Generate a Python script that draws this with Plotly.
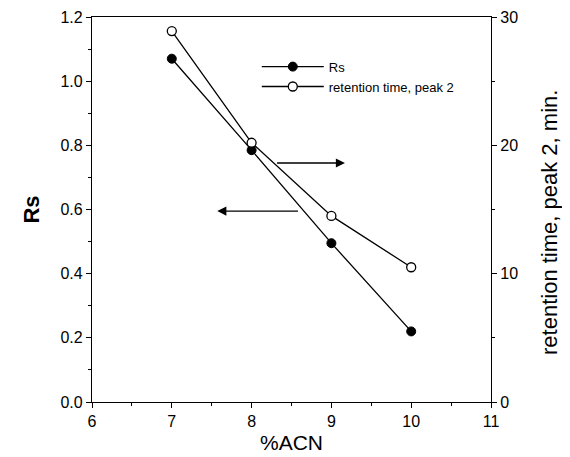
import plotly.graph_objects as go

acn = [7, 8, 9, 10]
rs = [1.07, 0.785, 0.495, 0.22]
ret_time = [28.9, 20.2, 14.5, 10.5]

x_ticks = [6, 7, 8, 9, 10, 11]
rs_ticks = [0.0, 0.2, 0.4, 0.6, 0.8, 1.0, 1.2]
rt_ticks = [0, 10, 20, 30]

font_family = "Liberation Sans, Arial, Helvetica, sans-serif"
tick_font = dict(family=font_family, size=16, color="black")

fig = go.Figure()
fig.add_trace(go.Scatter(
    x=acn, y=rs, name="Rs", mode="lines+markers",
    line=dict(color="black", width=1.3),
    marker=dict(symbol="circle", size=9, color="black", line=dict(color="black", width=1)),
))
fig.add_trace(go.Scatter(
    x=acn, y=ret_time, name="retention time, peak 2", mode="lines+markers",
    line=dict(color="black", width=1.3),
    marker=dict(symbol="circle", size=9, color="white", line=dict(color="black", width=1.3)),
    yaxis="y2",
))

# arrows indicating which axis each series uses
fig.add_annotation(x=9.17, y=0.745, ax=8.3, ay=0.745, xref="x", yref="y", axref="x", ayref="y",
                   showarrow=True, arrowhead=2, arrowsize=1.3, arrowwidth=1.4, arrowcolor="black", text="")
fig.add_annotation(x=7.57, y=0.595, ax=8.6, ay=0.595, xref="x", yref="y", axref="x", ayref="y",
                   showarrow=True, arrowhead=2, arrowsize=1.3, arrowwidth=1.4, arrowcolor="black", text="")

# right axis title (placed slightly below the axis centre, as in the original)
fig.add_annotation(text="retention time, peak 2, min.", textangle=-90, showarrow=False,
                   xref="paper", yref="paper", x=1, y=0.465, xanchor="center", yanchor="middle",
                   xshift=59, font=dict(family=font_family, size=22, color="black"))

fig.update_layout(
    width=562, height=449,
    margin=dict(l=84, r=79, t=9, b=55),
    paper_bgcolor="white", plot_bgcolor="white",
    font=dict(family=font_family, size=15, color="black"),
    showlegend=True,
    legend=dict(x=0.413, y=0.91, xanchor="left", yanchor="top", bgcolor="rgba(0,0,0,0)",
                font=dict(size=13, color="black"), tracegroupgap=0, itemwidth=62),
    xaxis=dict(
        range=[6, 11], tickvals=x_ticks, ticks="outside", ticklen=5, tickwidth=1.3, tickcolor="black",
        tickfont=tick_font, automargin=False,
        showline=True, linecolor="black", linewidth=1.3, mirror=True, showgrid=False, zeroline=False,
        minor=dict(dtick=0.5, ticks="outside", ticklen=3, tickwidth=1, tickcolor="black"),
        title=dict(text="%ACN", font=dict(size=21, color="black"), standoff=5),
    ),
    yaxis=dict(
        range=[0, 1.2], tickvals=rs_ticks, tickformat=".1f", ticks="outside", ticklen=5, tickwidth=1.3,
        tickcolor="black", tickfont=tick_font, automargin=False,
        showline=True, linecolor="black", linewidth=1.3, showgrid=False, zeroline=False,
        minor=dict(dtick=0.1, ticks="outside", ticklen=3, tickwidth=1, tickcolor="black"),
        title=dict(text="<b>Rs</b>", font=dict(size=22, color="black"), standoff=14),
    ),
    yaxis2=dict(
        range=[0, 30], tickvals=rt_ticks, overlaying="y", side="right", ticks="outside", ticklen=5, tickwidth=1.3,
        tickcolor="black", tickfont=tick_font, automargin=False,
        showline=True, linecolor="black", linewidth=1.3, showgrid=False, zeroline=False,
        minor=dict(dtick=5, ticks="outside", ticklen=3, tickwidth=1, tickcolor="black"),
    ),
)

fig.write_html("out.html")
